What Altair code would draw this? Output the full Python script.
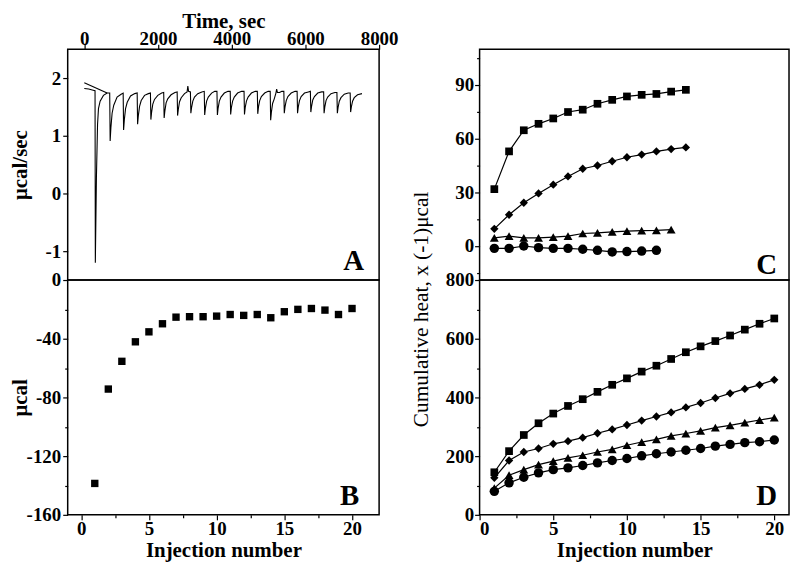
import altair as alt
import pandas as pd

FONT = "Liberation Serif"

# ---------------- Panel A: raw ITC trace ----------------
trace_t = [0, 120, 240, 292,
           300, 330, 360, 385, 430, 520, 620,
           690, 702, 722, 755, 800, 890, 1000,
           1055, 1067, 1087, 1120, 1165, 1255, 1370,
           1435, 1447, 1467, 1500, 1545, 1635, 1740,
           1795, 1807, 1827, 1860, 1905, 1995, 2100,
           2155, 2167, 2187, 2220, 2265, 2355, 2460,
           2520, 2532, 2552, 2585, 2630, 2720, 2790, 2810, 2830,
           2880, 2892, 2912, 2945, 2990, 3080, 3190,
           3255, 3267, 3287, 3320, 3365, 3455, 3540,
           3600, 3612, 3632, 3665, 3710, 3800, 3900,
           3960, 3972, 3992, 4025, 4070, 4160, 4270,
           4335, 4347, 4367, 4400, 4445, 4535, 4640,
           4695, 4707, 4727, 4760, 4805, 4895, 4990,
           5045, 5057, 5077, 5110, 5155, 5200, 5220, 5240, 5300, 5360,
           5415, 5427, 5447, 5480, 5525, 5615, 5720,
           5775, 5787, 5807, 5840, 5885, 5975, 6080,
           6135, 6147, 6167, 6200, 6245, 6335, 6440,
           6495, 6507, 6527, 6560, 6605, 6695, 6800,
           6855, 6867, 6887, 6920, 6965, 7055, 7160,
           7215, 7227, 7247, 7280, 7325, 7415, 7535]
trace_v = [1.82, 1.81, 1.79, 1.78,
           -1.20, 0.30, 1.20, 1.47, 1.60, 1.70, 1.74,
           1.74, 0.91, 1.14, 1.39, 1.53, 1.67, 1.72,
           1.74, 1.10, 1.28, 1.47, 1.58, 1.69, 1.73,
           1.74, 1.20, 1.35, 1.51, 1.61, 1.70, 1.73,
           1.74, 1.28, 1.41, 1.55, 1.63, 1.70, 1.74,
           1.75, 1.31, 1.43, 1.57, 1.64, 1.71, 1.75,
           1.76, 1.35, 1.46, 1.59, 1.66, 1.73, 1.76, 1.86, 1.77,
           1.76, 1.39, 1.49, 1.60, 1.67, 1.73, 1.76,
           1.77, 1.36, 1.48, 1.60, 1.67, 1.74, 1.77,
           1.77, 1.36, 1.48, 1.60, 1.67, 1.74, 1.77,
           1.77, 1.37, 1.49, 1.60, 1.67, 1.74, 1.77,
           1.77, 1.37, 1.49, 1.60, 1.67, 1.74, 1.77,
           1.77, 1.38, 1.50, 1.61, 1.68, 1.74, 1.77,
           1.77, 1.27, 1.41, 1.56, 1.64, 1.74, 1.81, 1.75, 1.75, 1.77,
           1.77, 1.39, 1.50, 1.61, 1.68, 1.74, 1.77,
           1.77, 1.39, 1.50, 1.61, 1.68, 1.74, 1.76,
           1.77, 1.41, 1.51, 1.62, 1.68, 1.74, 1.76,
           1.76, 1.39, 1.50, 1.61, 1.67, 1.73, 1.75,
           1.75, 1.39, 1.49, 1.60, 1.66, 1.72, 1.74,
           1.74, 1.41, 1.50, 1.60, 1.66, 1.71, 1.73]
fit_t = [0, 620]
fit_v = [1.92, 1.74]

# ---------------- Panel B: injection heats ----------------
inj_b = list(range(1, 21))
heat_b = [-138.6, -74.3, -55.4, -42.1, -35.3, -29.8, -25.3, -25.0, -25.0, -24.6,
          -23.5, -24.1, -23.5, -25.7, -21.6, -20.0, -19.4, -20.5, -23.5, -19.4]

# ---------------- Panel C ----------------
c_square = [31.8, 52.9, 64.7, 68.3, 71.3, 74.9, 76.2, 79.5, 81.7, 83.6, 84.5, 85.0, 86.3, 87.3]
c_diamond = [9.6, 17.5, 24.2, 29.4, 34.3, 38.9, 43.2, 45.0, 47.4, 49.6, 51.1, 52.9, 54.2, 55.1]
c_triangle = [4.6, 5.5, 4.6, 4.6, 5.0, 5.5, 7.0, 7.3, 7.9, 8.3, 8.6, 8.8, 9.2]
c_circle = [-1.3, -1.3, 0.0, -0.9, -1.3, -1.3, -1.8, -2.4, -3.3, -3.1, -2.8, -2.4]

# ---------------- Panel D: cumulative heat ----------------
d_square = [145, 217, 272, 312, 345, 371, 394, 419, 443, 465,
            488, 508, 531, 554, 574, 592, 611, 631, 651, 669]
d_diamond = [126, 185, 214, 226, 242, 251, 263, 278, 291, 306,
             321, 335, 349, 366, 381, 398, 414, 429, 443, 460]
d_triangle = [91, 135, 154, 171, 183, 194, 203, 214, 223, 237,
              248, 257, 269, 277, 286, 297, 305, 314, 323, 331]
d_circle = [80, 109, 128, 143, 154, 160, 168, 177, 185, 192,
            201, 208, 214, 220, 226, 234, 240, 246, 249, 255]

SERIES = ["sq", "di", "tr", "ci"]
SHAPES = ["square", "diamond", "triangle-up", "circle"]
SIZES = [60, 90, 100, 66]


def long_df(lists):
    rows = []
    for name, vals in zip(SERIES, lists):
        for i, v in enumerate(vals):
            rows.append({"n": i + 1, "v": v, "s": name})
    return pd.DataFrame(rows)


df_trace = pd.DataFrame({"t": trace_t, "v": trace_v, "i": range(len(trace_t))})
df_fit = pd.DataFrame({"t": fit_t, "v": fit_v})
df_b = pd.DataFrame({"n": inj_b, "v": heat_b})
df_c = long_df([c_square, c_diamond, c_triangle, c_circle])
df_d = long_df([d_square, d_diamond, d_triangle, d_circle])

LW, RW = 313, 311
H1, H2 = 232, 236


def minor(test, big=5, small=3):
    return {"condition": {"test": test, "value": small}, "value": big}


def panel_label(text, w, h, dx, dy):
    return alt.Chart(pd.DataFrame({"s": [text]})).mark_text(
        align="right", baseline="alphabetic", font=FONT, fontSize=29,
        fontWeight="bold", color="black"
    ).encode(text="s:N", x=alt.value(w - dx), y=alt.value(h - dy))


# ---- A ----
xA = alt.X("t:Q", scale=alt.Scale(domain=[-450, 8000], nice=False, zero=False),
           axis=alt.Axis(orient="top", title="Time, sec", values=list(range(0, 8001, 1000)),
                         labelExpr="datum.value % 2000 == 0 ? '' + datum.value : ''",
                         labelFlush=False, tickSize=minor("datum.value % 2000 != 0"),
                         titlePadding=-2, labelPadding=-4))
yA = alt.Y("v:Q", scale=alt.Scale(domain=[-1.5, 2.5], nice=False, zero=False),
           axis=alt.Axis(title="μcal/sec", values=[-1, -0.5, 0, 0.5, 1, 1.5, 2],
                         labelExpr="datum.value % 1 == 0 ? '' + datum.value : ''",
                         tickSize=minor("datum.value % 1 != 0"), titlePadding=15))
a_trace = alt.Chart(df_trace).mark_line(color="black", strokeWidth=1.1).encode(
    x=xA, y=yA, order="i:Q")
a_fit = alt.Chart(df_fit).mark_line(color="black", strokeWidth=1.1).encode(x="t:Q", y="v:Q")
A = alt.layer(a_trace, a_fit, panel_label("A", LW, H1, 15, 10)).properties(width=LW, height=H1)

# ---- B ----
xB = alt.X("n:Q", scale=alt.Scale(domain=[-1, 22], nice=False, zero=False),
           axis=alt.Axis(title="Injection number", values=[0, 2.5, 5, 7.5, 10, 12.5, 15, 17.5, 20],
                         labelExpr="datum.value % 5 == 0 ? '' + datum.value : ''",
                         tickSize=minor("datum.value % 5 != 0"), titlePadding=1, labelPadding=0))
yB = alt.Y("v:Q", scale=alt.Scale(domain=[-160, 0], nice=False, zero=False),
           axis=alt.Axis(title="μcal", values=list(range(-160, 1, 20)),
                         labelExpr="datum.value % 40 == 0 ? '' + datum.value : ''",
                         tickSize=minor("datum.value % 40 != 0"), titlePadding=-4))
b_pts = alt.Chart(df_b).mark_point(shape="square", filled=True, color="black",
                                   opacity=1, size=55).encode(x=xB, y=yB)
B = alt.layer(b_pts, panel_label("B", LW, H2, 20, 10)).properties(width=LW, height=H2)

shape_enc = alt.Shape("s:N", scale=alt.Scale(domain=SERIES, range=SHAPES), legend=None)
size_enc = alt.Size("s:N", scale=alt.Scale(domain=SERIES, range=SIZES), legend=None)

# ---- C ----
xC = alt.X("n:Q", scale=alt.Scale(domain=[0, 21], nice=False, zero=False), axis=None)
yC = alt.Y("v:Q", scale=alt.Scale(domain=[-19, 110], nice=False, zero=False),
           axis=alt.Axis(title=None, values=list(range(-15, 106, 15)),
                         labelExpr="datum.value % 30 == 0 ? '' + datum.value : ''",
                         tickSize=minor("datum.value % 30 != 0"), labelPadding=1))
c_line = alt.Chart(df_c).mark_line(color="black", strokeWidth=1.2).encode(x=xC, y=yC, detail="s:N")
c_pts = alt.Chart(df_c).mark_point(filled=True, color="black", opacity=1).encode(
    x=xC, y=yC, shape=shape_enc, size=size_enc)
C = alt.layer(c_line, c_pts, panel_label("C", RW, H1, 12, 6)).properties(width=RW, height=H1)

# ---- D ----
xD = alt.X("n:Q", scale=alt.Scale(domain=[0, 21], nice=False, zero=False),
           axis=alt.Axis(title="Injection number", values=[0, 2.5, 5, 7.5, 10, 12.5, 15, 17.5, 20],
                         labelExpr="datum.value % 5 == 0 ? '' + datum.value : ''",
                         tickSize=minor("datum.value % 5 != 0"), titlePadding=1, labelPadding=0))
yD = alt.Y("v:Q", scale=alt.Scale(domain=[0, 800], nice=False, zero=False),
           axis=alt.Axis(title="Cumulative heat, x (-1)μcal", values=list(range(0, 801, 100)),
                         labelExpr="datum.value % 200 == 0 ? '' + datum.value : ''",
                         tickSize=minor("datum.value % 200 != 0"), labelPadding=1,
                         titleFontWeight="normal", titleFontSize=21.5, titlePadding=13,
                         titleY=29, titleAlign="center"))
d_line = alt.Chart(df_d).mark_line(color="black", strokeWidth=1.2).encode(x=xD, y=yD, detail="s:N")
d_pts = alt.Chart(df_d).mark_point(filled=True, color="black", opacity=1).encode(
    x=xD, y=yD, shape=shape_enc, size=size_enc)
D = alt.layer(d_line, d_pts, panel_label("D", RW, H2, 12, 10)).properties(width=RW, height=H2)

chart = alt.concat(A, C, B, D, columns=2, spacing={"row": 0, "column": 101}, bounds="flush").properties(
    padding={"left": 0, "top": 0, "right": 2, "bottom": 0}
).configure_view(stroke="black", strokeWidth=1.5).configure_axis(
    labelFont=FONT, labelFontSize=19, labelFontWeight="bold", labelColor="black",
    titleFont=FONT, titleFontSize=21, titleFontWeight="bold", titleColor="black",
    tickColor="black", tickWidth=1.2, domain=False, grid=False, labelPadding=2
)

chart.save("out.html", embed_options={"renderer": "svg", "actions": False})
